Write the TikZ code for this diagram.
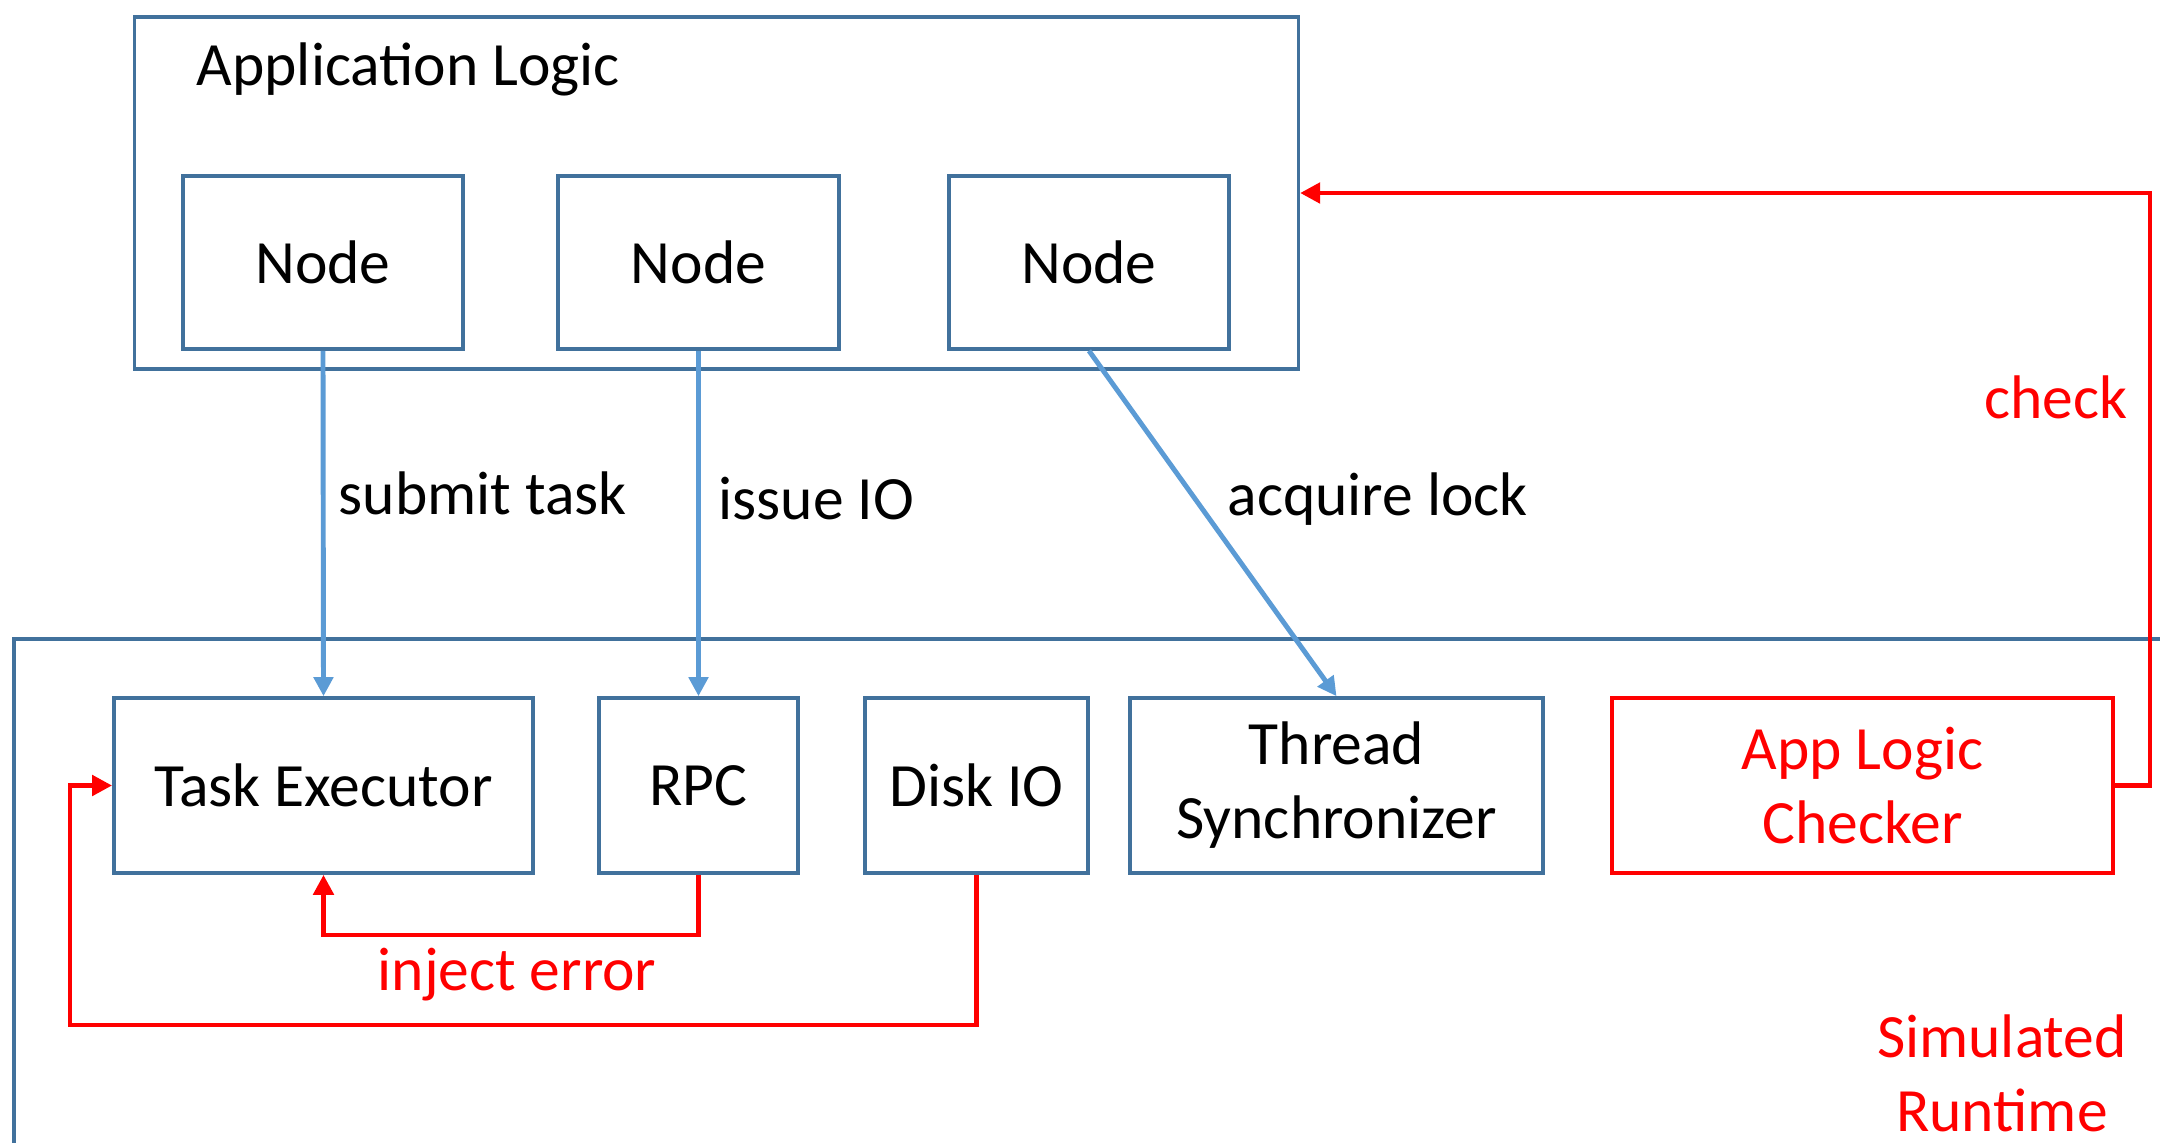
\documentclass[tikz,border=0pt]{standalone}
\usepackage{fontspec}
\setmainfont{Carlito}
\usetikzlibrary{arrows.meta,calc}
\definecolor{boxcol}{RGB}{65,113,156}
\definecolor{arrcol}{RGB}{91,155,213}
\definecolor{redcol}{RGB}{255,0,0}
\begin{document}
\begin{tikzpicture}[x=0.01cm,y=-0.01cm,
  txt/.style={font=\fontsize{17.5}{21}\selectfont, inner sep=0pt},
  bbox/.style={draw=boxcol, line width=1pt, inner sep=0pt, align=center, font=\fontsize{17.5}{21}\selectfont},
  rbox/.style={draw=redcol, line width=1.2pt, inner sep=0pt, align=center, text=redcol, font=\fontsize{17.5}{21}\selectfont},
  barrow/.style={draw=arrcol, line width=1.4pt, -{Triangle[length=0.19cm,width=0.19cm]}},
  rarrow/.style={draw=redcol, line width=1.4pt, -{Triangle[length=0.2cm,width=0.2cm]}},
  rlabel/.style={txt, text=redcol}]
\useasboundingbox (0,0) rectangle (2160,1142);

% outer frames
\node[bbox, minimum width=11.63cm, minimum height=3.52cm] (app) at (716.5,193) {};
\node[txt, anchor=west] (applabel) at (196,69) {Application Logic};
\draw[draw=boxcol, line width=1pt] (2170,639) -- (14,639) -- (14,1160);

% application nodes
\node[bbox, minimum width=2.80cm, minimum height=1.73cm] (n1) at (323,262.5) {Node};
\node[bbox, minimum width=2.81cm, minimum height=1.73cm] (n2) at (698.5,262.5) {Node};
\node[bbox, minimum width=2.80cm, minimum height=1.73cm] (n3) at (1089,262.5) {Node};

% runtime components
\node[bbox, minimum width=4.19cm, minimum height=1.75cm] (te) at (323.5,785.5) {Task Executor};
\node[bbox, minimum width=1.99cm, minimum height=1.75cm] (rpc) at (698.5,785.5) {RPC};
\node[bbox, minimum width=2.23cm, minimum height=1.75cm] (disk) at (976.5,785.5) {Disk IO};
\node[bbox, minimum width=4.13cm, minimum height=1.75cm] (ts) at (1336.5,785.5) {Thread\\Synchronizer};
\node[rbox, minimum width=5.01cm, minimum height=1.75cm] (alc) at (1862.5,785.5) {App Logic\\Checker};

% blue arrows
\draw[barrow] (n1.south) -- (te.north);
\draw[barrow] (n2.south) -- (rpc.north);
\draw[barrow] (n3.south) -- (ts.north);
\node[txt, anchor=west] (l1) at (338,493) {submit task};
\node[txt, anchor=west] (l2) at (718,499) {issue IO};
\node[txt, anchor=west] (l3) at (1227,499) {acquire lock};

% red arrows
\coordinate (c1) at (698.5,935);
\draw[rarrow] (rpc.south) -- (c1) -| (te.south);
\coordinate (c2) at (70,1025);
\draw[rarrow] (disk.south) |- (c2) |- (te.west);
\coordinate (c3) at (2150,785.5);
\draw[rarrow] (alc.east) -- (c3) |- (app.east);

\node[rlabel] (inj) at (517,975) {inject error};
\node[rlabel, anchor=east] (chk) at (2128,397) {check};
\node[rlabel, align=center] (sim) at (2002,1073) {Simulated\\Runtime};
\end{tikzpicture}
\end{document}
